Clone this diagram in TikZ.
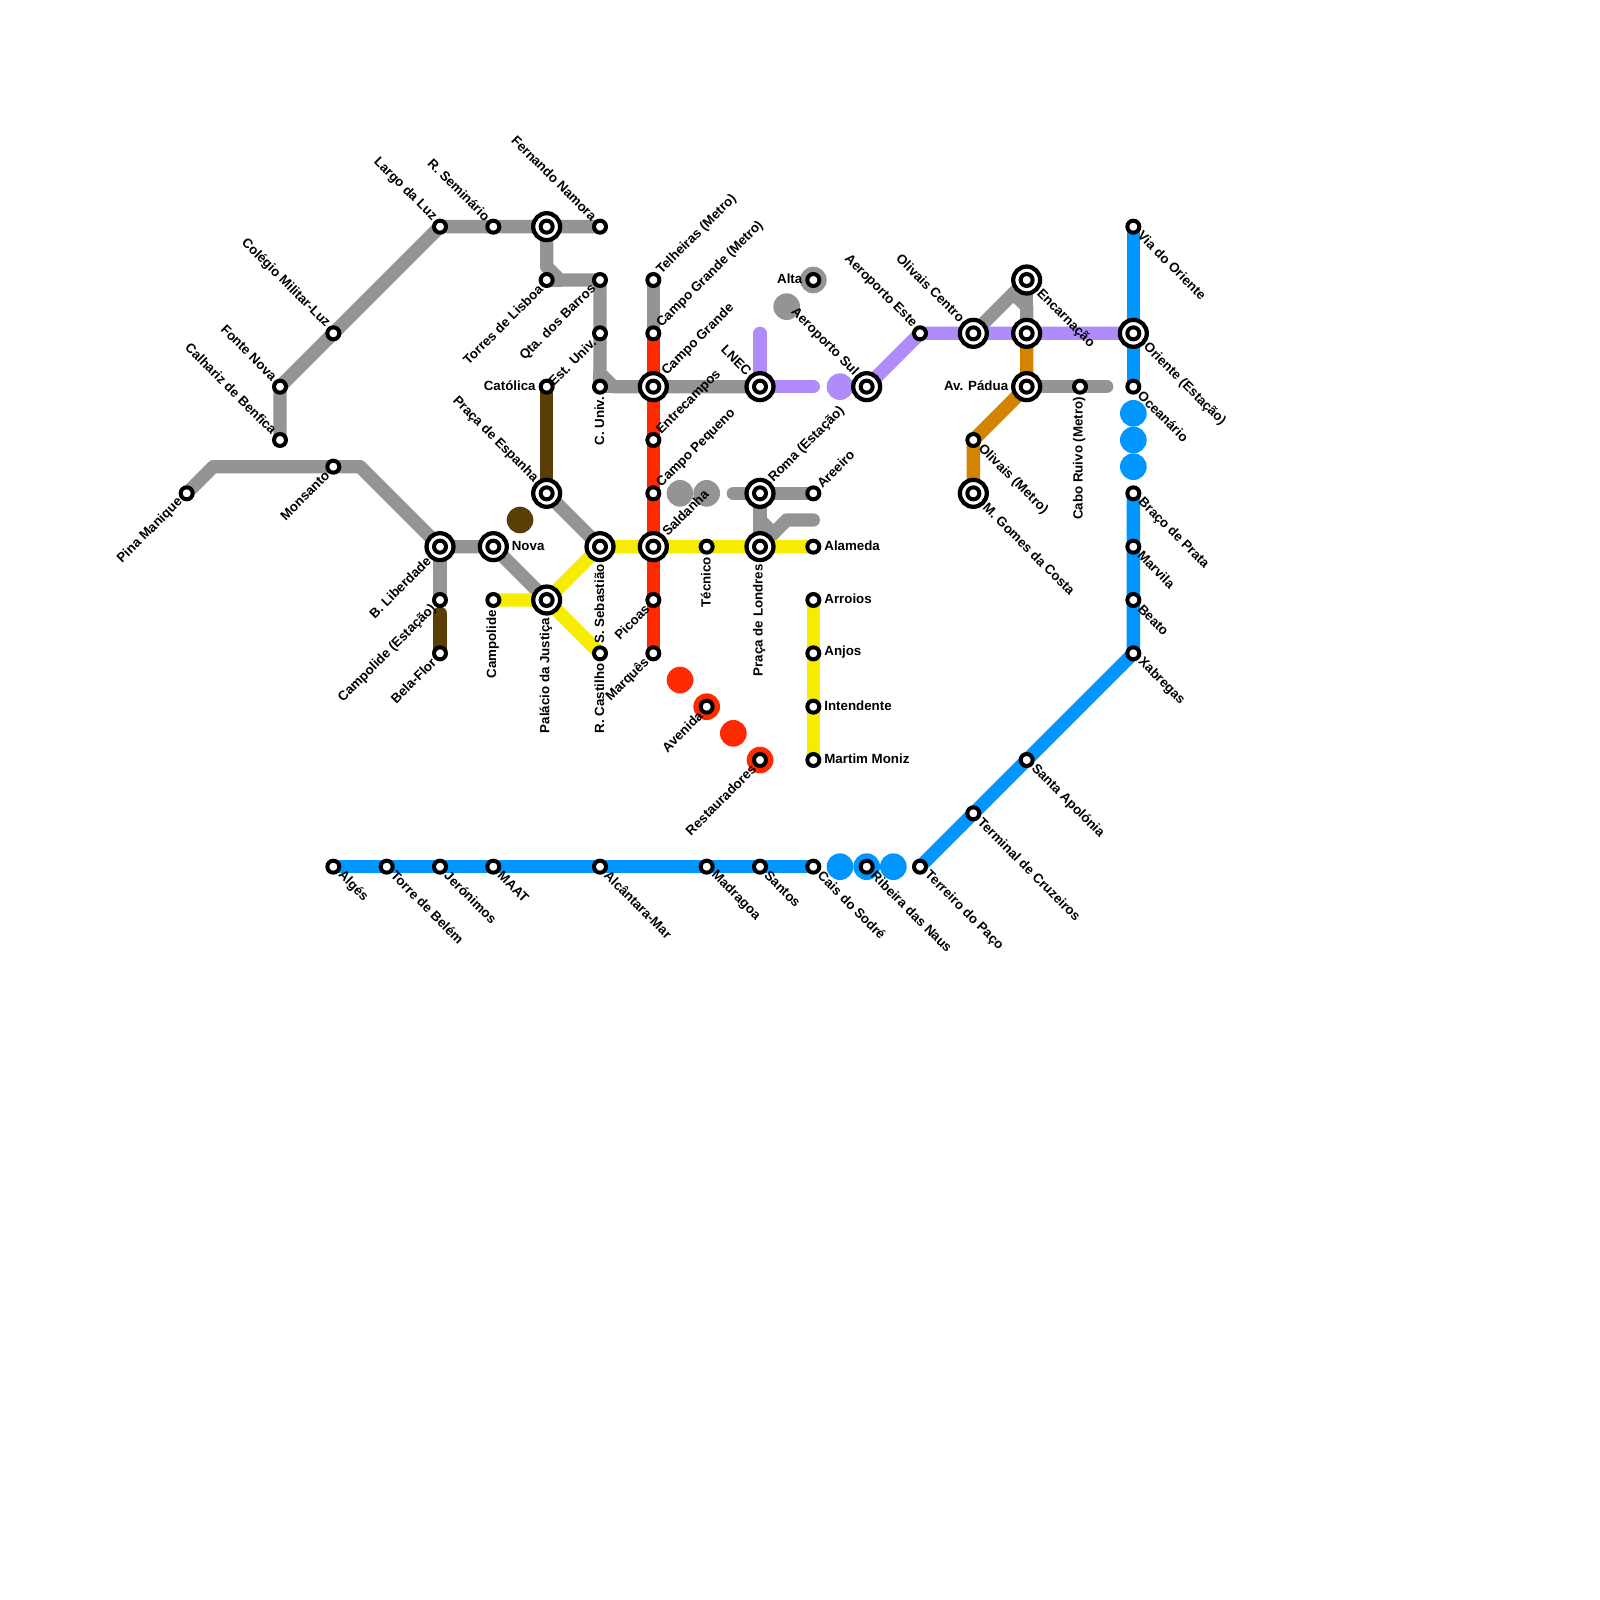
\documentclass[tikz,border=0pt]{standalone}
\usepackage{fontspec}
\setmainfont{Liberation Sans}
\usepackage{xcolor}
\usetikzlibrary{backgrounds}
\definecolor{lineGrey}{HTML}{949494}
\definecolor{lineRed}{HTML}{FF2A00}
\definecolor{lineYellow}{HTML}{F5EC00}
\definecolor{linePurple}{HTML}{B08CFA}
\definecolor{lineBrown}{HTML}{5A3E05}
\definecolor{lineOrange}{HTML}{D38300}
\definecolor{lineBlue}{HTML}{0096FF}

\begin{document}
\begin{tikzpicture}[
    x=.5cm, y=-.5cm,
    label distance=2.5pt,
    every label/.style={font=\bfseries\fontsize{7.1}{8}\selectfont,inner sep=0pt,text=black},
    stn/.style={circle,draw=black,line width=.075cm,fill=white,inner sep=0pt,outer sep=0pt,minimum size=.225cm},
    hub/.style={
      circle,draw=black,line width=.08cm,fill=white,inner sep=0pt,outer sep=0pt,minimum size=.505cm,
      label distance=3.2pt,
      path picture={\draw[line width=.075cm] (path picture bounding box.center) circle (.1125cm);}
    },
    dot/.style={circle,fill=#1,inner sep=0pt,outer sep=0pt,minimum size=.5cm},
    route/.style={draw=#1,line width=.25cm,line cap=round,line join=round},
    lnw/.style={rotate=-45,anchor=east,yshift=-.8pt},
    lsw/.style={rotate=45,anchor=east,xshift=.2pt,yshift=1.5pt},
    lne/.style={rotate=45,anchor=west,yshift=-1pt},
    lse/.style={rotate=-45,anchor=west,yshift=1.8pt},
    ls/.style={rotate=90,anchor=east,xshift=-2.1pt,yshift=2.9pt},
    lw/.style={anchor=east,yshift=.6pt},
    le/.style={anchor=west,yshift=.6pt}
  ]
    \useasboundingbox (0,0) rectangle (60,60);

    \coordinate (pinaBend) at (8,17.5);
    \coordinate (monsBend) at (13.5,17.5);
    \coordinate (torresBend) at (20.5,10);
    \coordinate (torresFoot) at (21,10.5);
    \coordinate (univBend) at (22.5,14);
    \coordinate (univFoot) at (23,14.5);
    \coordinate (lineEnd) at (27.5,18.5);
    \coordinate (stubEnd) at (30.5,19.5);
    \coordinate (stubBend) at (29.5,19.5);
    \coordinate (stubTop) at (28.5,19.5);
    \coordinate (stubFoot) at (29,20);
    \coordinate (lnecTop) at (28.5,12.5);
    \coordinate (lnecEnd) at (30.5,14.5);
    \coordinate (bfTop) at (16.5,23);
    \coordinate (encaBend) at (38,11);
    \coordinate (encaFoot) at (38.5,11.5);
    \coordinate (ruivoEnd) at (41.5,14.5);

    \node[dot=lineBrown] (brownDot) at (19.5,19.5) {};
    \node[dot=lineGrey] (altaDot) at (30.5,10.5) {};
    \node[dot=lineGrey] (greyDotA) at (29.5,11.5) {};
    \node[dot=lineGrey] (greyDotB) at (25.5,18.5) {};
    \node[dot=lineGrey] (greyDotC) at (26.5,18.5) {};
    \node[dot=lineRed] (redDotA) at (25.5,25.5) {};
    \node[dot=lineRed] (redDotB) at (26.5,26.5) {};
    \node[dot=lineRed] (redDotC) at (27.5,27.5) {};
    \node[dot=lineRed] (redDotD) at (28.5,28.5) {};
    \node[dot=linePurple] (purpleDot) at (31.5,14.5) {};
    \node[dot=lineBlue] (blueDotA) at (42.5,15.5) {};
    \node[dot=lineBlue] (blueDotB) at (42.5,16.5) {};
    \node[dot=lineBlue] (blueDotC) at (42.5,17.5) {};
    \node[dot=lineBlue] (blueDotD) at (31.5,32.5) {};
    \node[dot=lineBlue] (blueDotE) at (32.5,32.5) {};
    \node[dot=lineBlue] (blueDotF) at (33.5,32.5) {};

    \node[hub] (fork) at (20.5,8.5) {};
    \node[hub] (olivaisEast) at (38.5,12.5) {};
    \node[hub,label={[lse]-45:Encarnação}] (enca) at (38.5,10.5) {};
    \node[hub,label={[lsw]-135:B. Liberdade}] (liberdade) at (16.5,20.5) {};
    \node[hub,label={[le]0:Nova}] (nova) at (18.5,20.5) {};
    \node[hub,label={[ls]-90:Palácio da Justiça}] (palacio) at (20.5,22.5) {};
    \node[hub,label={[ls]-90:S. Sebastião}] (sebastiao) at (22.5,20.5) {};
    \node[hub,label={[lnw]135:Praça de Espanha}] (espanha) at (20.5,18.5) {};
    \node[hub,label={[lne]45:Campo Grande}] (campoG) at (24.5,14.5) {};
    \node[hub,label={[lne]45:Saldanha}] (saldanha) at (24.5,20.5) {};
    \node[hub,label={[lnw]135:LNEC}] (lnec) at (28.5,14.5) {};
    \node[hub,label={[lne]45:Roma (Estação)}] (roma) at (28.5,18.5) {};
    \node[hub,label={[ls]-90:Praça de Londres}] (londres) at (28.5,20.5) {};
    \node[hub,label={[lnw]135:Aeroporto Sul}] (aeroSul) at (32.5,14.5) {};
    \node[hub,label={[lnw]135:Olivais Centro}] (olivaisC) at (36.5,12.5) {};
    \node[hub,label={[lw]180:Av. Pádua}] (padua) at (38.5,14.5) {};
    \node[hub,label={[lse]-45:M. Gomes da Costa}] (gomes) at (36.5,18.5) {};
    \node[hub,label={[lse]-45:Oriente (Estação)}] (oriente) at (42.5,12.5) {};

    \node[stn,label={[lsw]-135:Pina Manique}] (pina) at (7,18.5) {};
    \node[stn,label={[lsw]-135:Monsanto}] (monsanto) at (12.5,17.5) {};
    \node[stn,label={[lnw]135:Calhariz de Benfica}] (calhariz) at (10.5,16.5) {};
    \node[stn,label={[lnw]135:Fonte Nova}] (fonte) at (10.5,14.5) {};
    \node[stn,label={[lnw]135:Colégio Militar-Luz}] (colegio) at (12.5,12.5) {};
    \node[stn,label={[lnw]135:Largo da Luz}] (largo) at (16.5,8.5) {};
    \node[stn,label={[lnw]135:R. Seminário}] (seminario) at (18.5,8.5) {};
    \node[stn,label={[lnw]135:Fernando Namora}] (namora) at (22.5,8.5) {};
    \node[stn,label={[lsw]-135:Torres de Lisboa}] (torres) at (20.5,10.5) {};
    \node[stn,label={[lsw]-135:Qta. dos Barros}] (barros) at (22.5,10.5) {};
    \node[stn,label={[lsw]-135:Est. Univ.}] (estUniv) at (22.5,12.5) {};
    \node[stn,label={[ls]-90:C. Univ.}] (cUniv) at (22.5,14.5) {};
    \node[stn,label={[lw]180:Católica}] (catolica) at (20.5,14.5) {};
    \node[stn,label={[lsw]-135:Campolide (Estação)}] (campolideE) at (16.5,22.5) {};
    \node[stn,label={[lsw]-135:Bela-Flor}] (belaFlor) at (16.5,24.5) {};
    \node[stn,label={[ls]-90:Campolide}] (campolide) at (18.5,22.5) {};
    \node[stn,label={[ls]-90:R. Castilho}] (castilho) at (22.5,24.5) {};
    \node[stn,label={[lne]45:Telheiras (Metro)}] (telheiras) at (24.5,10.5) {};
    \node[stn,label={[lne]45:Campo Grande (Metro)}] (campoGM) at (24.5,12.5) {};
    \node[stn,label={[lne]45:Entrecampos}] (entre) at (24.5,16.5) {};
    \node[stn,label={[lne]45:Campo Pequeno}] (campoP) at (24.5,18.5) {};
    \node[stn,label={[lsw]-135:Picoas}] (picoas) at (24.5,22.5) {};
    \node[stn,label={[lsw]-135:Marquês}] (marques) at (24.5,24.5) {};
    \node[stn,label={[lsw]-135:Avenida}] (avenida) at (26.5,26.5) {};
    \node[stn,label={[lsw]-135:Restauradores}] (restaur) at (28.5,28.5) {};
    \node[stn,label={[ls]-90:Técnico}] (tecnico) at (26.5,20.5) {};
    \node[stn,label={[lw]180:Alta}] (alta) at (30.5,10.5) {};
    \node[stn,label={[lne]45:Areeiro}] (areeiro) at (30.5,18.5) {};
    \node[stn,label={[le]0:Alameda}] (alameda) at (30.5,20.5) {};
    \node[stn,label={[le]0:Arroios}] (arroios) at (30.5,22.5) {};
    \node[stn,label={[le]0:Anjos}] (anjos) at (30.5,24.5) {};
    \node[stn,label={[le]0:Intendente}] (intendente) at (30.5,26.5) {};
    \node[stn,label={[le]0:Martim Moniz}] (moniz) at (30.5,28.5) {};
    \node[stn,label={[lnw]135:Aeroporto Este}] (aeroEste) at (34.5,12.5) {};
    \node[stn,label={[lse]-45:Olivais (Metro)}] (olivaisM) at (36.5,16.5) {};
    \node[stn,label={[ls]-90:Cabo Ruivo (Metro)}] (ruivo) at (40.5,14.5) {};
    \node[stn,label={[lse]-45:Via do Oriente}] (via) at (42.5,8.5) {};
    \node[stn,label={[lse]-45:Oceanário}] (oceanario) at (42.5,14.5) {};
    \node[stn,label={[lse]-45:Braço de Prata}] (braco) at (42.5,18.5) {};
    \node[stn,label={[lse]-45:Marvila}] (marvila) at (42.5,20.5) {};
    \node[stn,label={[lse]-45:Beato}] (beato) at (42.5,22.5) {};
    \node[stn,label={[lse]-45:Xabregas}] (xabregas) at (42.5,24.5) {};
    \node[stn,label={[lse]-45:Santa Apolónia}] (apolonia) at (38.5,28.5) {};
    \node[stn,label={[lse]-45:Terminal de Cruzeiros}] (terminal) at (36.5,30.5) {};
    \node[stn,label={[lse]-45:Terreiro do Paço}] (terreiro) at (34.5,32.5) {};
    \node[stn,label={[lse]-45:Ribeira das Naus}] (ribeira) at (32.5,32.5) {};
    \node[stn,label={[lse]-45:Cais do Sodré}] (cais) at (30.5,32.5) {};
    \node[stn,label={[lse]-45:Santos}] (santos) at (28.5,32.5) {};
    \node[stn,label={[lse]-45:Madragoa}] (madragoa) at (26.5,32.5) {};
    \node[stn,label={[lse]-45:Alcântara-Mar}] (alcantara) at (22.5,32.5) {};
    \node[stn,label={[lse]-45:MAAT}] (maat) at (18.5,32.5) {};
    \node[stn,label={[lse]-45:Jerónimos}] (jeronimos) at (16.5,32.5) {};
    \node[stn,label={[lse]-45:Torre de Belém}] (belem) at (14.5,32.5) {};
    \node[stn,label={[lse]-45:Algés}] (alges) at (12.5,32.5) {};

    \begin{scope}[on background layer]
      \draw[route=lineGrey] (pina.center) -- (pinaBend) -- (monsBend) -- (liberdade.center) -- (nova.center) -- (palacio.center);
      \draw[route=lineGrey] (liberdade.center) -- (campolideE.center);
      \draw[route=lineGrey] (calhariz.center) -- (fonte.center) -- (largo.center) -- (namora.center);
      \draw[route=lineGrey] (fork.center) -- (torresBend) -- (torresFoot) -- (barros.center) -- (univBend) -- (univFoot) -- (lnec.center);
      \draw[route=lineGrey] (torres.center) -- (torresFoot);
      \draw[route=lineGrey] (univBend) -- (cUniv.center) -- (univFoot);
      \draw[route=lineGrey] (telheiras.center) -- (campoGM.center);
      \draw[route=lineGrey] (espanha.center) -- (sebastiao.center);
      \draw[route=lineGrey] (lineEnd) -- (areeiro.center);
      \draw[route=lineGrey] (roma.center) -- (londres.center);
      \draw[route=lineGrey] (stubEnd) -- (stubBend) -- (londres.center);
      \draw[route=lineGrey] (stubTop) -- (stubFoot);
      \draw[route=lineGrey] (olivaisC.center) -- (encaBend) -- (encaFoot) -- (olivaisEast.center);
      \draw[route=lineGrey] (enca.center) -- (encaBend);
      \draw[route=lineGrey] (enca.center) -- (olivaisEast.center);
      \draw[route=lineGrey] (padua.center) -- (ruivoEnd);
      \draw[route=lineBrown] (catolica.center) -- (espanha.center);
      \draw[route=lineBrown] (bfTop) -- (belaFlor.center);
      \draw[route=lineRed] (campoGM.center) -- (marques.center);
      \draw[route=lineYellow] (campolide.center) -- (palacio.center) -- (sebastiao.center) -- (alameda.center);
      \draw[route=lineYellow] (palacio.center) -- (castilho.center);
      \draw[route=lineYellow] (arroios.center) -- (moniz.center);
      \draw[route=linePurple] (lnecTop) -- (lnec.center) -- (lnecEnd);
      \draw[route=linePurple] (aeroSul.center) -- (aeroEste.center) -- (oriente.center);
      \draw[route=lineOrange] (olivaisEast.center) -- (padua.center) -- (olivaisM.center) -- (gomes.center);
      \draw[route=lineBlue] (via.center) -- (oceanario.center);
      \draw[route=lineBlue] (braco.center) -- (xabregas.center) -- (terreiro.center);
      \draw[route=lineBlue] (alges.center) -- (cais.center);
    \end{scope}
  \end{tikzpicture}
\end{document}
